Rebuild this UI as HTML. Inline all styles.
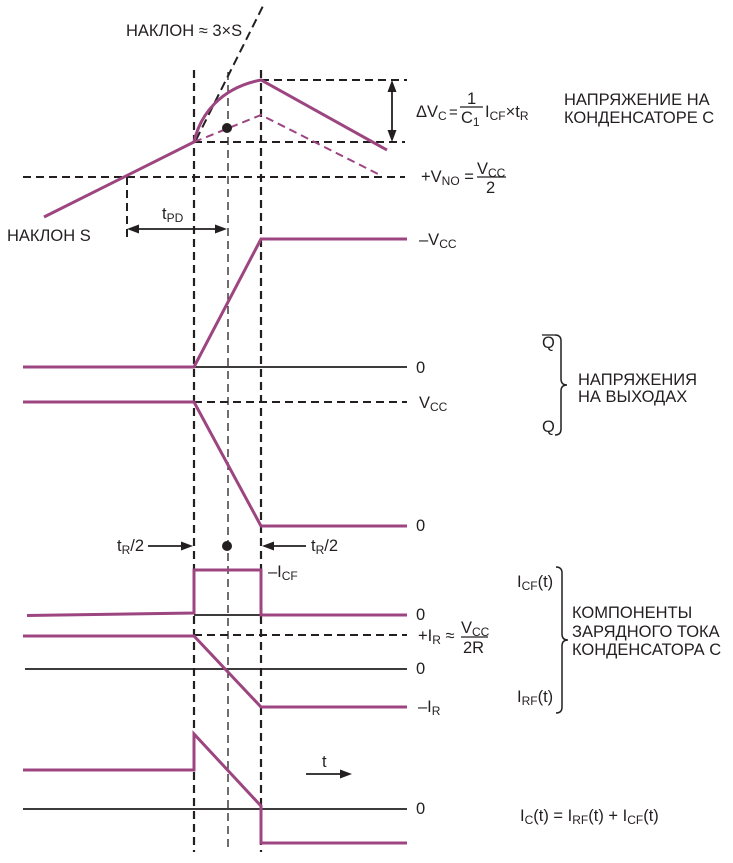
<!DOCTYPE html>
<html><head><meta charset="utf-8"><style>
html,body{margin:0;padding:0;background:#fff;}
svg{display:block;}
text{font-family:"Liberation Sans",Arial,sans-serif;font-size:16.5px;fill:#231f20;}
.s{font-size:12px;}
</style></head><body>
<svg width="733" height="863" viewBox="0 0 733 863" xmlns="http://www.w3.org/2000/svg">
<g fill="none" stroke-linecap="butt">
<!-- vertical dashed lines -->
<line x1="194" y1="70" x2="194" y2="852" stroke="#231f20" stroke-width="2.2" stroke-dasharray="8,5"/>
<line x1="261" y1="70" x2="261" y2="852" stroke="#231f20" stroke-width="2.2" stroke-dasharray="8,5"/>
<line x1="228" y1="72" x2="228" y2="852" stroke="#231f20" stroke-width="1.3" stroke-dasharray="8,5"/>
<line x1="127" y1="177" x2="127" y2="240" stroke="#231f20" stroke-width="2" stroke-dasharray="8,5"/>
<!-- horizontal dashed -->
<line x1="261" y1="80" x2="407" y2="80" stroke="#231f20" stroke-width="2" stroke-dasharray="8,5"/>
<line x1="194" y1="142" x2="405" y2="142" stroke="#231f20" stroke-width="2" stroke-dasharray="8,5"/>
<line x1="23" y1="177" x2="405" y2="177" stroke="#231f20" stroke-width="2" stroke-dasharray="8,5"/>
<!-- slope 3xS dashed -->
<line x1="196" y1="140" x2="264" y2="4" stroke="#231f20" stroke-width="2" stroke-dasharray="9,5"/>
<!-- capacitor voltage -->
<path d="M44,217 L194,142 C200,115 220,88 261,80 L387,150" stroke="#9c4580" stroke-width="3"/>
<path d="M194,142 L261,115 L380,175" stroke="#9c4580" stroke-width="2" stroke-dasharray="8,5"/>
<!-- Qbar -->
<line x1="194" y1="367" x2="407" y2="367" stroke="#231f20" stroke-width="1.8"/>
<path d="M23,367 L194,367 L261,239 L407,239" stroke="#9c4580" stroke-width="3"/>
<!-- Q -->
<line x1="194" y1="402" x2="407" y2="402" stroke="#231f20" stroke-width="2" stroke-dasharray="8,5"/>
<path d="M23,402 L194,402 L261,526 L407,526" stroke="#9c4580" stroke-width="3"/>
<!-- ICF -->
<line x1="194" y1="615" x2="261" y2="615" stroke="#231f20" stroke-width="1.8"/>
<path d="M27,615.5 L194,613 L194,570 L261,570 L261,615 L407,615" stroke="#9c4580" stroke-width="3"/>
<!-- IRF -->
<line x1="194" y1="635" x2="407" y2="635" stroke="#231f20" stroke-width="2" stroke-dasharray="8,5"/>
<line x1="25" y1="669" x2="407" y2="669" stroke="#231f20" stroke-width="1.8"/>
<path d="M23,636 L194,636 L261,707 L407,707" stroke="#9c4580" stroke-width="3"/>
<!-- IC -->
<line x1="23" y1="809" x2="407" y2="809" stroke="#231f20" stroke-width="1.8"/>
<path d="M23,770 L194,770 L194,734 L261,806 L261,843 L407,843" stroke="#9c4580" stroke-width="3"/>
<!-- arrows lines -->
<line x1="392" y1="88" x2="392" y2="134" stroke="#231f20" stroke-width="1.8"/>
<line x1="135" y1="229" x2="219" y2="229" stroke="#231f20" stroke-width="1.8"/>
<line x1="148" y1="546" x2="185" y2="546" stroke="#231f20" stroke-width="1.8"/>
<line x1="270" y1="546" x2="306" y2="546" stroke="#231f20" stroke-width="1.8"/>
<line x1="306" y1="774" x2="344" y2="774" stroke="#231f20" stroke-width="1.8"/>
<!-- braces -->
<path d="M555,335 Q561,335 561,341 L561,379 Q561,385 567,385 Q561,385 561,391 L561,429 Q561,435 555,435" stroke="#231f20" stroke-width="1.5"/>
<path d="M556,567 Q562,567 562,573 L562,634 Q562,640 568,640 Q562,640 562,646 L562,707 Q562,713 556,713" stroke="#231f20" stroke-width="1.5"/>
<!-- Qbar overline -->
<line x1="542" y1="335" x2="555" y2="335" stroke="#231f20" stroke-width="1.3"/>
<!-- fraction lines -->
<line x1="460" y1="107" x2="483" y2="107" stroke="#231f20" stroke-width="1.3"/>
<line x1="477" y1="177" x2="506" y2="177" stroke="#231f20" stroke-width="1.3"/>
<line x1="461" y1="637" x2="488" y2="637" stroke="#231f20" stroke-width="1.3"/>
</g>
<g fill="#231f20">
<!-- arrowheads -->
<polygon points="392,80 387.5,92 396.5,92"/>
<polygon points="392,142 387.5,130 396.5,130"/>
<polygon points="127,229 139,224.5 139,233.5"/>
<polygon points="227,229 215,224.5 215,233.5"/>
<polygon points="193,546 181,541.5 181,550.5"/>
<polygon points="262,546 274,541.5 274,550.5"/>
<polygon points="352,774 340,769.5 340,778.5"/>
<circle cx="227" cy="128" r="5"/>
<circle cx="227" cy="546" r="5"/>
</g>
<!-- texts -->
<text x="126" y="36">НАКЛОН ≈ 3×S</text>
<text x="7" y="241">НАКЛОН S</text>
<text x="162" y="219">t<tspan class="s" dy="3">PD</tspan></text>
<text x="416" y="117">ΔV<tspan class="s" dy="3">C</tspan></text>
<text x="449" y="117" style="font-size:15px">=</text>
<text x="467" y="104">1</text>
<text x="461" y="123">C<tspan class="s" dy="3">1</tspan></text>
<text x="485" y="117">I<tspan class="s" dy="3">CF</tspan><tspan dy="-3">×t</tspan><tspan class="s" dy="3">R</tspan></text>
<text x="564" y="105">НАПРЯЖЕНИЕ НА</text>
<text x="564" y="123">КОНДЕНСАТОРЕ С</text>
<text x="421" y="182">+V<tspan class="s" dy="3">NO</tspan><tspan dy="-3"> =</tspan></text>
<text x="477" y="174">V<tspan class="s" dy="3">CC</tspan></text>
<text x="486" y="193">2</text>
<text x="419" y="245">–V<tspan class="s" dy="3">CC</tspan></text>
<text x="416" y="373">0</text>
<text x="419" y="408">V<tspan class="s" dy="3">CC</tspan></text>
<text x="416" y="531">0</text>
<text x="542" y="348">Q</text>
<text x="542" y="432">Q</text>
<text x="578" y="385">НАПРЯЖЕНИЯ</text>
<text x="578" y="402">НА ВЫХОДАХ</text>
<text x="117" y="551">t<tspan class="s" dy="3">R</tspan><tspan dy="-3">/2</tspan></text>
<text x="311" y="551">t<tspan class="s" dy="3">R</tspan><tspan dy="-3">/2</tspan></text>
<text x="268" y="577">–I<tspan class="s" dy="3">CF</tspan></text>
<text x="416" y="620">0</text>
<text x="418" y="641">+I<tspan class="s" dy="3">R</tspan><tspan dy="-3"> ≈</tspan></text>
<text x="461" y="633">V<tspan class="s" dy="3">CC</tspan></text>
<text x="463" y="653">2R</text>
<text x="416" y="674">0</text>
<text x="418" y="712">–I<tspan class="s" dy="3">R</tspan></text>
<text x="517" y="587">I<tspan class="s" dy="3">CF</tspan><tspan dy="-3">(t)</tspan></text>
<text x="517" y="702">I<tspan class="s" dy="3">RF</tspan><tspan dy="-3">(t)</tspan></text>
<text x="572" y="618">КОМПОНЕНТЫ</text>
<text x="572" y="637">ЗАРЯДНОГО ТОКА</text>
<text x="572" y="655">КОНДЕНСАТОРА С</text>
<text x="322" y="767">t</text>
<text x="416" y="814">0</text>
<text x="520" y="821">I<tspan class="s" dy="3">C</tspan><tspan dy="-3">(t) = I</tspan><tspan class="s" dy="3">RF</tspan><tspan dy="-3">(t) + I</tspan><tspan class="s" dy="3">CF</tspan><tspan dy="-3">(t)</tspan></text>
</svg>
</body></html>
